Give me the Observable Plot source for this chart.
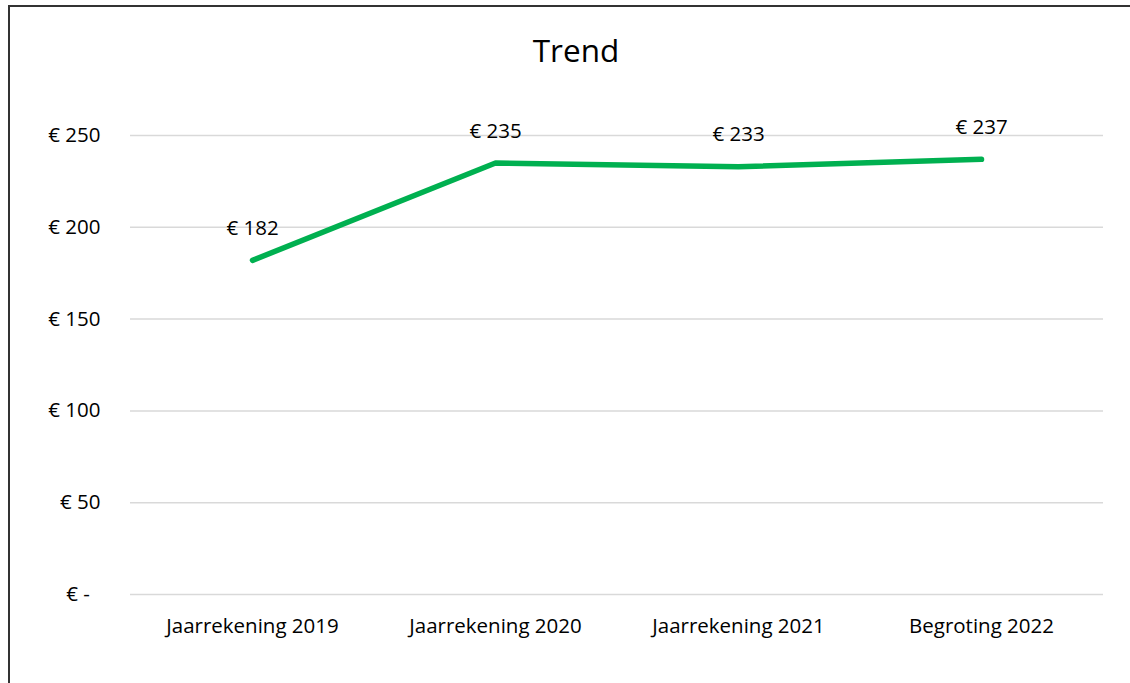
<!DOCTYPE html>
<html>
<head>
<meta charset="utf-8">
<script src="https://cdn.jsdelivr.net/npm/d3@7"></script>
<script src="https://cdn.jsdelivr.net/npm/@observablehq/plot@0.6"></script>
<style>
  html, body { margin: 0; padding: 0; background: #fff; overflow: hidden; }
  #frame { position: absolute; left: 8px; top: 5px; width: 1200px; height: 760px;
           border-top: 2px solid #333; border-left: 2px solid #333; box-sizing: border-box; }
  #wrap { position: absolute; left: 0; top: 0; width: 1130px; }
  #title { height: 100px; line-height: 100px; text-align: center; font-family: "Open Sans", sans-serif;
           font-size: 31.5px; color: #000; padding-left: 22px; box-sizing: border-box; }
  svg { display: block; }
</style>
</head>
<body>
<div id="frame"></div>
<div id="wrap">
  <div id="title">Trend</div>
  <div id="chart"></div>
</div>
<script>
const categories = ["Jaarrekening 2019", "Jaarrekening 2020", "Jaarrekening 2021", "Begroting 2022"];
const values = [182, 235, 233, 237];
const yTicks = [0, 50, 100, 150, 200, 250];

const data = categories.map((c, i) => ({category: c, value: values[i]}));
const fmt = v => v === 0 ? "€ -\u00a0\u00a0" : "€ " + v;

const chart = Plot.plot({
  width: 1130,
  height: 583,
  marginLeft: 130,
  marginRight: 27,
  marginTop: 35,
  marginBottom: 89,
  style: {fontFamily: "Open Sans, sans-serif", fontSize: "20.5px", color: "#000", background: "transparent"},
  x: {type: "point", domain: categories, padding: 0.5, label: null},
  y: {domain: [0, 250], label: null},
  marks: [
    Plot.ruleY(yTicks, {stroke: "#d9d9d9", strokeWidth: 1.5}),
    Plot.axisY(yTicks, {tickSize: 0, tickPadding: 30, tickFormat: fmt, fontSize: 20.5, label: null}),
    Plot.axisX({tickSize: 0, tickPadding: 24, fontSize: 20.5, label: null}),
    Plot.line(data, {x: "category", y: "value", stroke: "#00b050", strokeWidth: 5.5, strokeLinecap: "round", strokeLinejoin: "round"}),
    Plot.text(data, {x: "category", y: "value", text: d => "€ " + d.value, dy: -32, fontSize: 20.5, fill: "#000"})
  ]
});
document.getElementById("chart").appendChild(chart);
</script>
</body>
</html>
